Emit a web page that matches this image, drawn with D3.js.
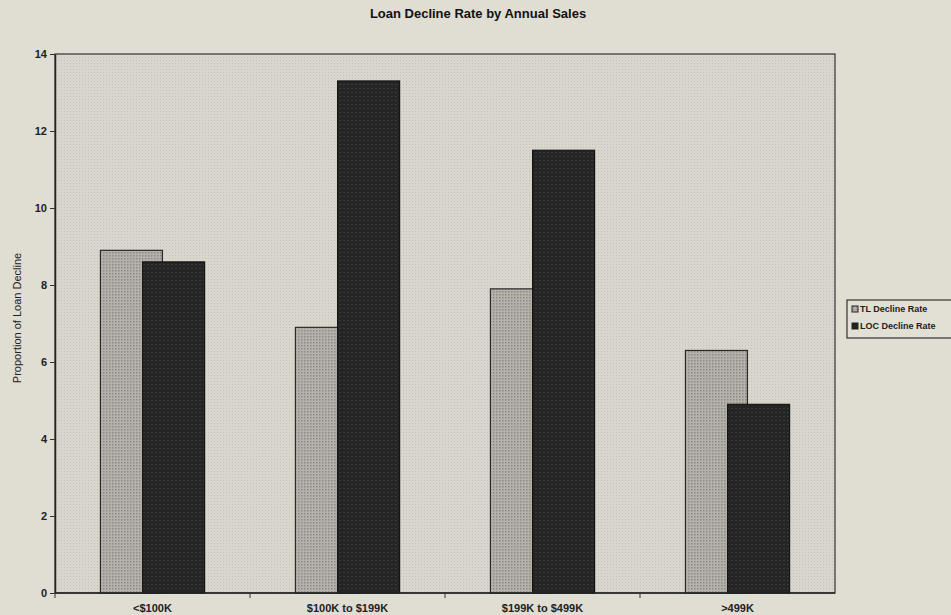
<!DOCTYPE html>
<html>
<head>
<meta charset="utf-8">
<script src="https://cdn.jsdelivr.net/npm/d3@7"></script>
<style>
  body { margin: 0; background: #e0ddd2; }
  svg { display: block; }
</style>
</head>
<body>
<div id="chart"></div>
<script>
const categories = ['<$100K', '$100K to $199K', '$199K to $499K', '>499K']
const seriesNames = ['TL Decline Rate', 'LOC Decline Rate']
const tlValues = [8.9, 6.9, 7.9, 6.3]
const locValues = [8.6, 13.3, 11.5, 4.9]
const yTicks = [0, 2, 4, 6, 8, 10, 12, 14]

const svgWidth = 951, svgHeight = 615
const margin = {top: 54, left: 55, right: 116, bottom: 22}
const width = svgWidth - margin.left - margin.right
const height = svgHeight - margin.top - margin.bottom

const svg = d3.select('#chart')
    .append('svg')
    .attr('width', svgWidth)
    .attr('height', svgHeight)
    .style('font-family', 'Arial, "Liberation Sans", sans-serif')

// textures
const defs = svg.append('defs')
const plotPat = defs.append('pattern').attr('id', 'plotPat')
    .attr('width', 3).attr('height', 3).attr('patternUnits', 'userSpaceOnUse')
plotPat.append('rect').attr('width', 3).attr('height', 3).attr('fill', '#d9d7cd')
plotPat.append('rect').attr('width', 1).attr('height', 1).attr('fill', '#c6c4ba')

const tlPat = defs.append('pattern').attr('id', 'tlPat')
    .attr('width', 3).attr('height', 3).attr('patternUnits', 'userSpaceOnUse')
tlPat.append('rect').attr('width', 3).attr('height', 3).attr('fill', '#b4b2ab')
tlPat.append('rect').attr('width', 1.5).attr('height', 1.5).attr('fill', '#8c8a84')

const locPat = defs.append('pattern').attr('id', 'locPat')
    .attr('width', 4).attr('height', 4).attr('patternUnits', 'userSpaceOnUse')
locPat.append('rect').attr('width', 4).attr('height', 4).attr('fill', '#252525')
locPat.append('rect').attr('y', 2).attr('width', 2).attr('height', 1).attr('fill', '#3a3a3a')

const g = svg.append('g')
    .attr('transform', `translate(${margin.left},${margin.top})`)

let xScale = d3.scaleBand()
    .domain(categories)
    .range([0, width])

let yScale = d3.scaleLinear()
    .domain([0, 14])
    .range([height, 0])

// plot area
g.append('rect')
    .attr('width', width)
    .attr('height', height)
    .attr('fill', 'url(#plotPat)')
    .attr('stroke', '#333')
    .attr('stroke-width', 1.2)

const barW = xScale.bandwidth() * 0.318
const overlap = barW * 0.32

let tlBars = g.selectAll('.tl')
    .data(categories)
    .join('rect')
    .attr('class', 'tl')
    .attr('x', d => xScale(d) + xScale.bandwidth() / 2 - barW + overlap / 2)
    .attr('y', (d, i) => yScale(tlValues[i]))
    .attr('width', barW)
    .attr('height', (d, i) => height - yScale(tlValues[i]))
    .attr('fill', 'url(#tlPat)')
    .attr('stroke', '#2a2a2a')
    .attr('stroke-width', 1.2)

let locBars = g.selectAll('.loc')
    .data(categories)
    .join('rect')
    .attr('class', 'loc')
    .attr('x', d => xScale(d) + xScale.bandwidth() / 2 - overlap / 2)
    .attr('y', (d, i) => yScale(locValues[i]))
    .attr('width', barW)
    .attr('height', (d, i) => height - yScale(locValues[i]))
    .attr('fill', 'url(#locPat)')
    .attr('stroke', '#151515')
    .attr('stroke-width', 1.2)

// y axis
let yAxisGroup = g.append('g')
    .call(d3.axisLeft(yScale).tickValues(yTicks).tickSize(5).tickSizeOuter(0).tickPadding(3))
yAxisGroup.select('.domain').attr('stroke', '#222').attr('stroke-width', 1.5)
yAxisGroup.selectAll('.tick line').attr('stroke', '#333')
yAxisGroup.selectAll('text')
    .attr('font-size', 11)
    .attr('font-weight', 'bold')
    .attr('fill', '#222')

// x axis - ticks between categories
let xAxisGroup = g.append('g')
    .attr('transform', `translate(0,${height})`)
xAxisGroup.append('line')
    .attr('x1', 0).attr('x2', width)
    .attr('stroke', '#222').attr('stroke-width', 1.5)
xAxisGroup.selectAll('.sep')
    .data(categories)
    .join('line')
    .attr('class', 'sep')
    .attr('x1', d => xScale(d)).attr('x2', d => xScale(d))
    .attr('y1', 0).attr('y2', 5)
    .attr('stroke', '#333')
xAxisGroup.selectAll('text')
    .data(categories)
    .join('text')
    .attr('x', d => xScale(d) + xScale.bandwidth() / 2)
    .attr('y', 19)
    .attr('text-anchor', 'middle')
    .attr('font-size', 11)
    .attr('font-weight', 'bold')
    .attr('fill', '#222')
    .text(d => d)

// y label
svg.append('text')
    .attr('transform', `translate(21,${318}) rotate(-90)`)
    .attr('text-anchor', 'middle')
    .attr('font-size', 11)
    .attr('fill', '#222')
    .text('Proportion of Loan Decline')

// title
svg.append('text')
    .attr('x', 478)
    .attr('y', 18)
    .attr('text-anchor', 'middle')
    .attr('font-size', 13)
    .attr('font-weight', 'bold')
    .attr('fill', '#111')
    .text('Loan Decline Rate by Annual Sales')

// legend
let legendGroup = svg.append('g')
    .attr('transform', 'translate(847,300)')
legendGroup.append('rect')
    .attr('width', 120).attr('height', 38)
    .attr('fill', '#e2dfd5')
    .attr('stroke', '#333').attr('stroke-width', 1.2)
legendGroup.selectAll('.sw')
    .data(seriesNames)
    .join('rect')
    .attr('class', 'sw')
    .attr('x', 5).attr('y', (d, i) => 6 + i * 17)
    .attr('width', 6).attr('height', 6)
    .attr('fill', (d, i) => i === 0 ? 'url(#tlPat)' : '#222')
    .attr('stroke', '#222')
legendGroup.selectAll('text')
    .data(seriesNames)
    .join('text')
    .attr('x', 13).attr('y', (d, i) => 12 + i * 17)
    .attr('font-size', 9)
    .attr('font-weight', 'bold')
    .attr('fill', '#222')
    .text(d => d)
</script>
</body>
</html>
